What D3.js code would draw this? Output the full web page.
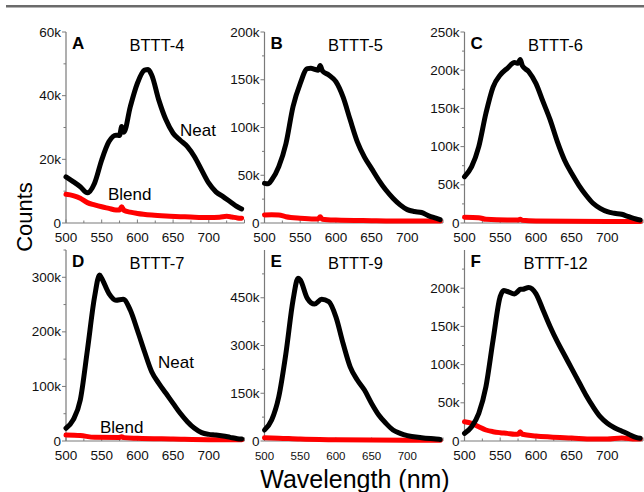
<!DOCTYPE html>
<html>
<head>
<meta charset="utf-8">
<script src="https://cdn.jsdelivr.net/npm/d3@7"></script>
<style>
  html, body { margin: 0; padding: 0; background: #fff; }
  svg { display: block; font-family: "Liberation Sans", Arial, sans-serif; }
</style>
</head>
<body>
<svg id="chart"></svg>
<script>
// spectra, [wavelength nm, counts in k]
const neatA = [[500,14.5],[510,13],[520,11.4],[530,9.5],[540,12.5],[550,19.8],[560,25.5],[570,27.6],[575,27.5],[578,30.3],[581,28.5],[590,36.5],[600,43.9],[610,48],[615,48.2],[620,46.5],[630,38.6],[640,32.4],[650,28.2],[660,26],[670,24],[680,20.8],[690,16.6],[700,12.5],[710,9.8],[720,8.3],[730,6.7],[740,5.1],[746,4.4]];
const blendA = [[500,9],[510,8.6],[520,7.8],[530,6.4],[540,5.7],[550,5.1],[560,4.6],[570,4.1],[575,4.1],[578,5.1],[581,4],[590,3.4],[600,3],[620,2.5],[640,2.2],[660,2],[680,1.8],[700,1.7],[715,1.8],[725,2.1],[732,1.9],[740,1.6],[746,1.5]];

const neatB = [[500,41.5],[505,41],[510,45],[520,59],[530,83],[540,122],[550,146],[560,161.6],[565,162],[570,161],[575,160],[578,165],[581,159.5],[590,155],[600,148],[610,132],[620,108],[630,85],[640,69],[650,57],[660,45],[670,34.5],[680,26],[690,19],[700,14],[710,12],[720,11],[730,7.5],[740,5],[746,3.5]];
const blendB = [[500,8.4],[510,8.6],[520,8.4],[530,6.6],[550,5],[570,4.2],[575,4.3],[578,6.5],[581,4],[600,3.1],[650,2.4],[700,2],[746,2]];

const neatC = [[500,60.6],[510,73.7],[520,99.9],[530,143.6],[540,178],[550,193.7],[560,202.5],[570,210],[575,209],[578,214],[581,206],[590,198],[600,182.7],[610,158.8],[620,134.9],[630,106.5],[640,82.5],[650,65],[660,49.7],[670,36.6],[680,25.8],[690,19.2],[700,14.8],[710,12.7],[720,11.4],[730,8.2],[740,5.2],[746,4]];
const blendC = [[500,7.4],[520,7],[530,4.8],[560,3.8],[575,3.8],[578,5],[581,3.6],[600,2.5],[700,2],[746,2]];

const neatD = [[500,23.2],[510,38.5],[520,75],[530,166.8],[540,264],[547,304],[550,298],[560,270.7],[570,258],[580,259.7],[590,240],[600,203],[610,163.6],[620,127],[630,105.7],[640,87.4],[650,69],[660,50.7],[670,35.4],[680,23.2],[690,15.3],[700,12.2],[710,11],[720,9.2],[730,6.7],[740,4.3],[746,3.5]];
const blendD = [[500,11],[520,10],[540,6.7],[575,6.5],[578,8],[581,6.2],[600,5],[650,3.7],[700,2.5],[746,2.5]];

const neatE = [[500,34.6],[510,66],[520,139],[530,275.5],[540,443],[547,511],[550,506],[560,448],[570,430],[580,445],[590,438],[600,390],[610,307],[620,233],[630,191.6],[640,160],[650,118],[660,81.7],[670,55.6],[680,34.6],[690,24],[700,16.8],[720,10.5],[740,6.3],[746,5]];
const blendE = [[500,10.5],[520,9],[550,6],[600,4],[700,2.5],[746,2.5]];

const neatF = [[500,10],[510,18.7],[520,36.2],[530,71],[540,132],[550,189],[555,197],[560,195.7],[570,192.4],[575,196],[578,198.5],[581,198.5],[590,201],[600,193],[610,171.5],[620,149.6],[630,130],[640,112.6],[650,95],[660,77.6],[670,60.2],[680,44.9],[690,31.8],[700,23.2],[710,17.4],[720,13.1],[730,8.8],[740,4.8],[746,3.5]];
const blendF = [[500,25.3],[510,23.2],[520,18.7],[530,14.4],[540,12.2],[550,10.9],[560,10],[570,8.8],[575,8.8],[578,12.2],[581,8.8],[600,6.5],[620,5.2],[650,3.9],[680,2.6],[700,2.6],[720,3.9],[740,2.6],[746,2.6]];

const xTicks = [500, 550, 600, 650, 700];
const panelLetters = ["A", "B", "C", "D", "E", "F"];
const panelNames = ["BTTT-4", "BTTT-5", "BTTT-6", "BTTT-7", "BTTT-9", "BTTT-12"];
const yMax = [60, 200, 250, 350, 600, 250];
const yTicks = [[0,20,40,60],[0,50,100,150,200],[0,50,100,150,200,250],[0,100,200,300],[0,150,300,450],[0,50,100,150,200]];
const neatSeries = [neatA, neatB, neatC, neatD, neatE, neatF];
const blendSeries = [blendA, blendB, blendC, blendD, blendE, blendF];

const W = 644, H = 492;
const COL_X = [66, 264.5, 464.5], PW = 178.5;
const ROWS = [{ top: 32, bottom: 223 }, { top: 250, bottom: 441 }];
const AXIS_COLOR = "#7a7a7a";

const svg = d3.select("#chart").attr("width", W).attr("height", H);

// header rule
svg.append("rect").attr("x", 6).attr("y", 5).attr("width", W - 6).attr("height", 2.5).attr("fill", "#6b6b6b");

panelLetters.forEach((letter, i) => {
  const row = ROWS[Math.floor(i / 3)];
  const x0 = COL_X[i % 3];
  const g = svg.append("g");

  const x = d3.scaleLinear().domain([500, 750]).range([x0, x0 + PW]);
  const y = d3.scaleLinear().domain([0, yMax[i]]).range([row.bottom, row.top]);

  const majStep = yTicks[i][1] - yTicks[i][0];
  const minorY = d3.range(majStep / 2, yMax[i] + 0.001, majStep).filter(v => !yTicks[i].includes(v));

  // y axis
  g.append("line").attr("x1", x0).attr("x2", x0).attr("y1", row.top).attr("y2", row.bottom)
    .attr("stroke", AXIS_COLOR).attr("stroke-width", 1.2);
  g.selectAll("line.ymaj").data(yTicks[i]).join("line")
    .attr("x1", x0 - 4).attr("x2", x0).attr("y1", d => y(d)).attr("y2", d => y(d))
    .attr("stroke", AXIS_COLOR);
  g.selectAll("line.ymin").data(minorY).join("line")
    .attr("x1", x0 - 2.5).attr("x2", x0).attr("y1", d => y(d)).attr("y2", d => y(d))
    .attr("stroke", AXIS_COLOR);
  g.selectAll("text.ylab").data(yTicks[i]).join("text")
    .attr("x", x0 - 5).attr("y", d => y(d) + 4.5)
    .attr("text-anchor", "end").attr("font-size", 13.5).attr("fill", "#111")
    .text(d => d === 0 ? "0" : d + "k");

  // x axis
  g.append("line").attr("x1", x0).attr("x2", x0 + PW).attr("y1", row.bottom).attr("y2", row.bottom)
    .attr("stroke", AXIS_COLOR).attr("stroke-width", 1.2);
  g.selectAll("line.xmaj").data(d3.range(500, 751, 25)).join("line")
    .attr("x1", d => x(d)).attr("x2", d => x(d))
    .attr("y1", row.bottom).attr("y2", d => row.bottom - (d % 50 === 0 ? 3.5 : 2.5))
    .attr("stroke", AXIS_COLOR);
  g.selectAll("text.xlab").data(xTicks).join("text")
    .attr("x", d => x(d)).attr("y", row.bottom + 19)
    .attr("text-anchor", "middle").attr("font-size", i === 4 ? 11.5 : 13.5).attr("fill", "#111")
    .text(d => d);

  // curves
  const line = d3.line().x(d => x(d[0])).y(d => y(d[1])).curve(d3.curveMonotoneX);
  g.append("path").datum(blendSeries[i]).attr("d", line)
    .attr("fill", "none").attr("stroke", "#ff0000").attr("stroke-width", 5)
    .attr("stroke-linejoin", "round").attr("stroke-linecap", "round");
  g.append("path").datum(neatSeries[i]).attr("d", line)
    .attr("fill", "none").attr("stroke", "#000").attr("stroke-width", 5)
    .attr("stroke-linejoin", "round").attr("stroke-linecap", "round");

  // titles
  g.append("text").attr("x", x0 + 6).attr("y", row.top + 17)
    .attr("font-size", 17).attr("font-weight", "bold").text(letter);
  g.append("text").attr("x", x0 + 91).attr("y", row.top + 18.5)
    .attr("text-anchor", "middle").attr("font-size", 16.5).text(panelNames[i]);
});

// curve labels
const curveLabels = [
  { text: "Neat", x: 180, y: 136 },
  { text: "Blend", x: 108, y: 200 },
  { text: "Neat", x: 158, y: 368 },
  { text: "Blend", x: 100, y: 432.5 },
];
svg.selectAll("text.clab").data(curveLabels).join("text")
  .attr("x", d => d.x).attr("y", d => d.y).attr("font-size", 17).text(d => d.text);

svg.append("text")
  .attr("transform", "translate(32,217) rotate(-90)")
  .attr("text-anchor", "middle").attr("font-size", 22).text("Counts");

svg.append("text").attr("x", 355).attr("y", 488)
  .attr("text-anchor", "middle").attr("font-size", 25).text("Wavelength (nm)");
</script>
</body>
</html>
